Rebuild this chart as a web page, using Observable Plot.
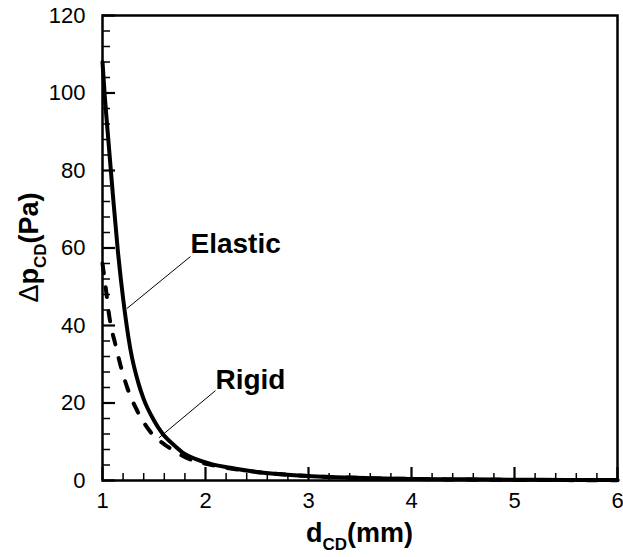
<!DOCTYPE html>
<html><head><meta charset="utf-8">
<script src="https://cdn.jsdelivr.net/npm/d3@7"></script>
<script src="https://cdn.jsdelivr.net/npm/@observablehq/plot@0.6"></script>
<style>html,body{margin:0;padding:0;background:#fff;}</style>
</head><body><div id="chart"></div>
<script>
// Data
const elasticX = [1.0, 1.02, 1.05, 1.1, 1.15, 1.2, 1.27, 1.35, 1.4, 1.5, 1.58, 1.7, 1.79, 1.9, 2.05, 2.24, 2.5, 2.83, 3.2, 3.6, 4.0, 4.5, 5.0, 5.5, 6.0];
const elasticY = [108, 100, 90, 74, 59, 47, 34, 25, 21, 15.5, 12.2, 9, 7, 5.6, 4.3, 3.3, 2.2, 1.4, 0.9, 0.6, 0.4, 0.3, 0.2, 0.15, 0.1];
const rigidX = [1.0, 1.03, 1.068, 1.126, 1.175, 1.24, 1.337, 1.466, 1.64, 1.84, 2.08, 2.4, 2.8, 3.2, 3.6, 4.0, 4.5, 5.0, 5.5, 6.0];
const rigidY = [56, 50, 42, 35.0, 29.7, 24, 18, 12.5, 8.6, 5.6, 3.9, 2.5, 1.5, 0.9, 0.6, 0.4, 0.25, 0.15, 0.1, 0.08];

const xDomain = [1, 6];
const yDomain = [0, 120];
const xTicks = [1, 2, 3, 4, 5, 6];
const yTicks = [0, 20, 40, 60, 80, 100, 120];
const xMinorTicks = [1.2, 1.4, 1.6, 1.8, 2.2, 2.4, 2.6, 2.8, 3.2, 3.4, 3.6, 3.8, 4.2, 4.4, 4.6, 4.8, 5.2, 5.4, 5.6, 5.8];
const yMinorTicks = [4, 8, 12, 16, 24, 28, 32, 36, 44, 48, 52, 56, 64, 68, 72, 76, 84, 88, 92, 96, 104, 108, 112, 116];

const seriesLabels = ["Elastic", "Rigid"];
const labelX = [1.854, 2.097];
const labelY = [58.6, 23.7];
const leaderFromX = [1.854, 2.097];
const leaderFromY = [57.8, 23.2];
const leaderToX = [1.238, 1.547];
const leaderToY = [44.4, 11.0];

const elastic = elasticX.map((x, i) => ({x, y: elasticY[i]}));
const rigid = rigidX.map((x, i) => ({x, y: rigidY[i]}));
const labels = seriesLabels.map((t, i) => ({t, x: labelX[i], y: labelY[i]}));
const leaders = seriesLabels.map((t, i) => ({x1: leaderFromX[i], y1: leaderFromY[i], x2: leaderToX[i], y2: leaderToY[i]}));

const font = "'Liberation Sans', Arial, Helvetica, sans-serif";
const W = 623, H = 557, mL = 102, mR = 6, mT = 15, mB = 77;
const plotW = W - mL - mR, plotH = H - mT - mB;

const chart = Plot.plot({
  width: W, height: H,
  marginLeft: mL, marginRight: mR, marginTop: mT, marginBottom: mB,
  style: {fontFamily: font, fontSize: "22px", color: "black", background: "white"},
  x: {domain: xDomain},
  y: {domain: yDomain},
  marks: [
    Plot.axisX(xTicks, {tickSize: 0, tickPadding: 12, fontSize: 22, label: null}),
    Plot.axisY(yTicks, {tickSize: 0, tickPadding: 17, fontSize: 22, label: null}),
    // inward tick marks
    Plot.tickX(xMinorTicks, {x: d => d, insetTop: plotH - 7, stroke: "black", strokeWidth: 1.5}),
    Plot.tickX(xTicks, {x: d => d, insetTop: plotH - 13, stroke: "black", strokeWidth: 2.2}),
    Plot.tickY(yMinorTicks, {y: d => d, insetRight: plotW - 8, stroke: "black", strokeWidth: 1.5}),
    Plot.tickY(yTicks, {y: d => d, insetRight: plotW - 13, stroke: "black", strokeWidth: 2.2}),
    Plot.line(rigid, {x: "x", y: "y", stroke: "black", strokeWidth: 4, strokeDasharray: "10,14", curve: "monotone-x"}),
    Plot.line(elastic, {x: "x", y: "y", stroke: "black", strokeWidth: 4, curve: "monotone-x"}),
    Plot.link(leaders, {x1: "x1", y1: "y1", x2: "x2", y2: "y2", stroke: "black", strokeWidth: 1}),
    Plot.text(labels, {x: "x", y: "y", text: "t", textAnchor: "start", lineAnchor: "bottom", fontWeight: "bold", fontSize: 28, fill: "black"}),
    Plot.frame({stroke: "black", strokeWidth: 2.5})
  ]
});

const svg = d3.select(chart);
// x-axis title
const xt = svg.append("text")
  .attr("x", (mL + W - mR) / 2).attr("y", 542)
  .attr("text-anchor", "middle")
  .attr("font-family", font).attr("font-weight", "bold").attr("font-size", 27).attr("fill", "black");
xt.append("tspan").text("d");
xt.append("tspan").attr("font-size", 17).attr("dy", 8).text("CD");
xt.append("tspan").attr("dy", -8).text("(mm)");
// y-axis title
const yt = svg.append("text")
  .attr("transform", `translate(38,${(mT + H - mB) / 2}) rotate(-90)`)
  .attr("text-anchor", "middle")
  .attr("font-family", font).attr("font-weight", "bold").attr("font-size", 27).attr("fill", "black");
yt.append("tspan").attr("font-weight", "normal").text("Δ");
yt.append("tspan").text("p");
yt.append("tspan").attr("font-size", 17).attr("dy", 8).text("CD");
yt.append("tspan").attr("dy", -8).text("(Pa)");

document.getElementById("chart").appendChild(chart);
</script>
</body></html>
